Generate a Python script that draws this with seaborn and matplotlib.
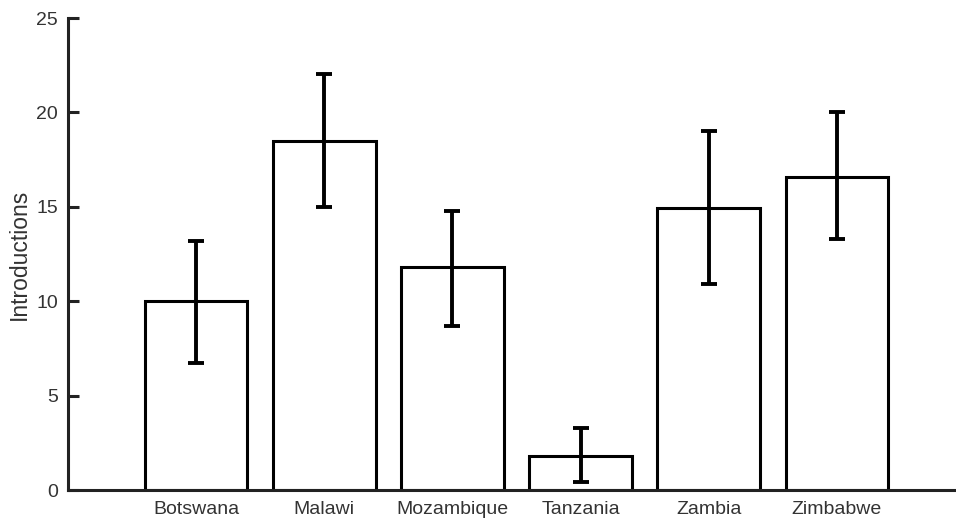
import matplotlib
matplotlib.use("Agg")
import matplotlib.pyplot as plt
import seaborn as sns
import pandas as pd
import numpy as np

countries = ["Botswana", "Malawi", "Mozambique", "Tanzania", "Zambia", "Zimbabwe"]
introductions = [10.0, 18.5, 11.8, 1.8, 14.95, 16.6]
ci_lower = [6.75, 15.0, 8.7, 0.4, 10.9, 13.3]
ci_upper = [13.2, 22.05, 14.8, 3.3, 19.0, 20.0]
y_ticks = [0, 5, 10, 15, 20, 25]

df = pd.DataFrame({"country": countries, "introductions": introductions})

sns.set_theme(style="white")
plt.rcParams["font.family"] = ["Liberation Sans", "DejaVu Sans"]

fig = plt.figure(figsize=(9.56, 5.27), dpi=100)
ax = fig.add_axes([0.0711, 0.0702, 0.9289, 0.8956])

sns.barplot(data=df, x="country", y="introductions", ax=ax, width=0.8,
            color="white", edgecolor="black", linewidth=2.2, errorbar=None)

means = np.array(introductions)
yerr = np.vstack([means - np.array(ci_lower), np.array(ci_upper) - means])
ax.errorbar(np.arange(len(countries)), means, yerr=yerr, fmt="none",
            ecolor="black", elinewidth=2.8, capsize=5.5, capthick=2.8, zorder=5)

ax.set_xlim(-1.0, 5.93)
ax.set_ylim(0, 25)
ax.set_yticks(y_ticks)
ax.set_xlabel("")
ax.set_ylabel("Introductions", fontsize=16.5, color="#333333", labelpad=4)

for side in ["top", "right"]:
    ax.spines[side].set_visible(False)
for side in ["left", "bottom"]:
    ax.spines[side].set_color("#222222")
    ax.spines[side].set_linewidth(2.2)

ax.tick_params(axis="y", direction="in", length=8, width=2.2, color="#222222",
               labelsize=14, labelcolor="#333333", pad=7, left=True)
ax.tick_params(axis="x", length=0, labelsize=14, labelcolor="#333333", pad=8)

fig.savefig("out.png", dpi=100)
